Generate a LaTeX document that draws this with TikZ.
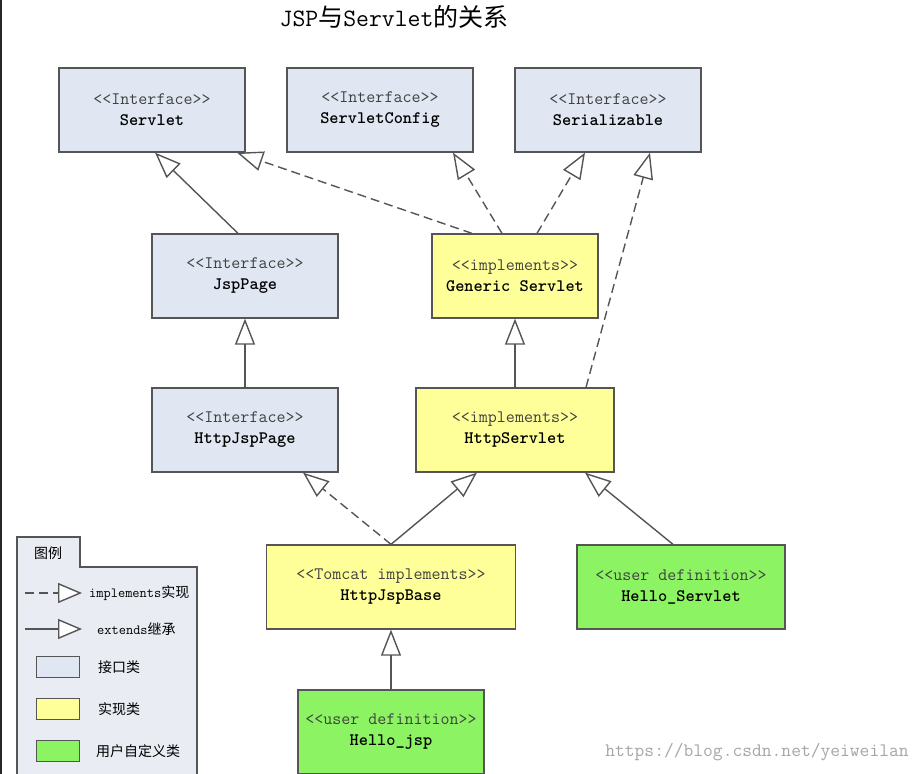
\documentclass[tikz,border=0pt]{standalone}
\usepackage{fontspec}
\newfontfamily\cjk{Noto Sans CJK SC}
\usetikzlibrary{arrows.meta}
\definecolor{ifacefill}{HTML}{E0E7F2}
\definecolor{implfill}{HTML}{FFFF99}
\definecolor{userfill}{HTML}{8CF462}
\definecolor{legendfill}{HTML}{E9ECF3}
\definecolor{boxline}{HTML}{555555}
\definecolor{stereotext}{HTML}{404040}
\newcommand\boxh{84pt}
\newcommand\stereo[1]{{\color{stereotext}<<#1>>}\\}
\newcommand\tipsize{length=26pt,width=20pt}

\tikzset{
  box/.style={draw=boxline, line width=1.3pt, minimum width=#1pt, minimum height=\boxh,
    align=center, font=\ttfamily\fontsize{17.5}{21}\selectfont},
  iface/.style={box=#1, fill=ifacefill},
  impl/.style={box=#1, fill=implfill},
  user/.style={box=#1, fill=userfill},
  extends/.style={draw=boxline, line width=1.4pt, -{Triangle[\tipsize,fill=white]}},
  realizes/.style={extends, dash pattern=on 9pt off 5pt},
  legendtext/.style={anchor=west, inner sep=0pt, font=\fontsize{14}{16}\selectfont}
}

\begin{document}
\begin{tikzpicture}[x=1pt,y=-1pt]
    \useasboundingbox[fill=white] (0,0) rectangle (922,774);
    \draw[line width=2pt, color=black!85] (1,0) -- (1,774);

    \node (title) at (394,17) {\fontsize{25}{28}\selectfont
      \ttfamily JSP\cjk 与\ttfamily Servlet\cjk 的关系};

    \node[iface=186] (servlet) at (152,110) {\stereo{Interface}\textbf{Servlet}};
    \node[iface=186] (servletconfig) at (380,110) {\stereo{Interface}\textbf{ServletConfig}};
    \node[iface=186] (serializable) at (608,110) {\stereo{Interface}\textbf{Serializable}};
    \node[iface=186] (jsppage) at (245,276) {\stereo{Interface}\textbf{JspPage}};
    \node[impl=166] (generic) at (515,276) {\stereo{implements}\textbf{Generic Servlet}};
    \node[iface=186] (httpjsppage) at (245,430) {\stereo{Interface}\textbf{HttpJspPage}};
    \node[impl=198] (httpservlet) at (515,430) {\stereo{implements}\textbf{HttpServlet}};
    \node[impl=249] (httpjspbase) at (391,587) {\stereo{Tomcat implements}\textbf{HttpJspBase}};
    \node[user=208] (helloservlet) at (681,587) {\stereo{user definition}\textbf{Hello\_Servlet}};
    \node[user=186] (hellojsp) at (391,732) {\stereo{user definition}\textbf{Hello\_jsp}};

    \draw[extends] ([xshift=-7pt]jsppage.north) -- ([xshift=3pt]servlet.south);
    \draw[realizes] ([xshift=-43pt]generic.north) -- ([xshift=85pt]servlet.south);
    \draw[realizes] ([xshift=-13pt]generic.north) -- ([xshift=73pt]servletconfig.south);
    \draw[realizes] ([xshift=22pt]generic.north) -- ([xshift=-23pt]serializable.south);
    \draw[realizes] ([xshift=71pt]httpservlet.north) -- ([xshift=42pt]serializable.south);
    \draw[extends] (httpservlet.north) -- (generic.south);
    \draw[extends] (httpjsppage.north) -- (jsppage.south);
    \draw[realizes] (httpjspbase.north) -- ([xshift=58pt]httpjsppage.south);
    \draw[extends] (httpjspbase.north) -- ([xshift=-38pt]httpservlet.south);
    \draw[extends] ([xshift=-8pt]helloservlet.north) -- ([xshift=70pt]httpservlet.south);
    \draw[extends] (hellojsp.north) -- (httpjspbase.south);

    \draw[draw=boxline, line width=1.3pt, fill=legendfill]
      (17,780) -- (17,537) -- (80,537) -- (80,567) -- (197,567) -- (197,780);
    \node[legendtext] (legendtab) at (34,553) {\cjk 图例};
    \coordinate (dashfrom) at (25,593);
    \coordinate (dashto) at (82,593);
    \coordinate (solidfrom) at (25,629);
    \coordinate (solidto) at (82,629);
    \draw[realizes, -{Triangle[length=24pt,width=20pt,fill=white]}] (dashfrom) -- (dashto);
    \draw[extends, -{Triangle[length=24pt,width=20pt,fill=white]}] (solidfrom) -- (solidto);
    \node[legendtext] (implnote) at (89,593) {\ttfamily\fontsize{14}{16}\selectfont implements\cjk 实现};
    \node[legendtext] (extnote) at (97,629) {\ttfamily\fontsize{14}{16}\selectfont extends\cjk 继承};
    \node[draw=boxline, line width=1.3pt, fill=ifacefill, minimum width=43pt, minimum height=21pt] (ifacekey) at (58,667) {};
    \node[draw=boxline, line width=1.3pt, fill=implfill, minimum width=43pt, minimum height=21pt] (implkey) at (58,709) {};
    \node[draw=boxline, line width=1.3pt, fill=userfill, minimum width=43pt, minimum height=21pt] (userkey) at (58,751) {};
    \node[legendtext] (ifacenote) at (98,667) {\cjk 接口类};
    \node[legendtext] (implnote2) at (98,709) {\cjk 实现类};
    \node[legendtext] (usernote) at (96,751) {\cjk 用户自定义类};

    \node[text=black!35, font=\ttfamily\fontsize{19}{22}\selectfont] (watermark) at (757,752) {https://blog.csdn.net/yeiweilan};
  \end{tikzpicture}
\end{document}
